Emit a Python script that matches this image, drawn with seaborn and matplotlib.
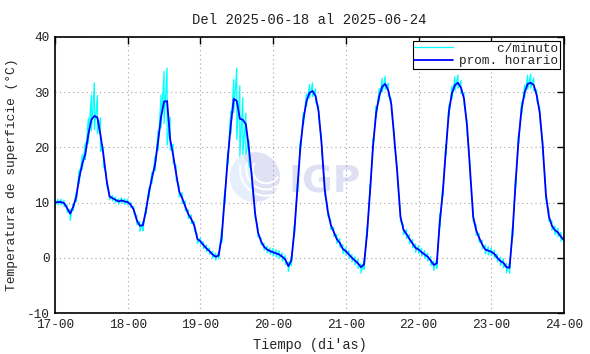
import numpy as np
import pandas as pd
import matplotlib
matplotlib.use("Agg")
import matplotlib.pyplot as plt
from matplotlib.patches import Circle, Wedge, Arc
import seaborn as sns

# promedio horario (C), una fila por dia, desde 17-jun 00h hasta 24-jun 00h
prom_horario = [
    10.0, 10.1, 10.1, 9.9, 9.0, 8.0, 9.2, 11.0, 14.5, 17.0, 18.8, 22.3, 25.0, 25.7, 25.4, 22.3, 18.6, 14.2, 11.1, 10.8, 10.5, 10.2, 10.4, 10.2,
    10.1, 9.6, 8.7, 6.8, 5.8, 5.9, 8.5, 11.8, 14.5, 16.8, 21.0, 25.5, 28.3, 28.4, 21.5, 18.6, 15.2, 12.0, 10.8, 9.3, 7.9, 7.0, 5.8, 3.4,
    3.0, 2.3, 1.7, 1.2, 0.6, 0.2, 0.4, 3.7, 10.8, 17.8, 24.0, 28.8, 28.4, 25.2, 25.0, 24.2, 19.8, 14.5, 8.2, 4.6, 3.0, 2.0, 1.5, 1.2,
    1.0, 0.8, 0.6, 0.2, -0.3, -1.5, -0.5, 4.8, 12.5, 20.2, 25.1, 28.4, 29.9, 30.2, 29.3, 26.5, 20.5, 12.5, 8.5, 6.0, 4.7, 3.4, 2.7, 1.6,
    1.2, 0.6, 0.0, -0.5, -1.0, -1.7, -1.2, 4.5, 12.2, 20.5, 26.3, 29.3, 31.0, 31.5, 30.3, 27.8, 21.5, 15.2, 7.5, 5.1, 4.3, 3.4, 2.6, 1.8,
    1.5, 1.0, 0.6, 0.2, -0.5, -1.3, -1.0, 6.5, 12.0, 19.5, 26.5, 29.8, 31.3, 31.7, 30.8, 28.8, 23.8, 15.8, 7.5, 5.0, 3.6, 2.4, 1.5, 1.3,
    1.1, 0.7, 0.0, -0.6, -0.9, -1.7, -1.8, 4.5, 13.5, 21.5, 27.0, 30.0, 31.5, 31.7, 31.3, 29.4, 26.2, 20.0, 11.5, 7.5, 5.8, 5.0, 4.6, 3.8,
    3.2,
]

# dispersion de los datos por minuto dentro de cada hora (sobre / bajo el promedio)
disp_sup = [
    0.5, 0.5, 0.5, 0.5, 0.6, 0.8, 0.6, 0.8, 1.5, 1.7, 2.0, 3.0, 4.5, 6.0, 4.0, 3.0, 1.5, 1.0, 0.5, 0.5, 0.5, 0.5, 0.5, 0.5,
    0.5, 0.5, 0.6, 0.8, 0.8, 0.6, 0.6, 0.8, 1.0, 1.5, 2.0, 4.0, 5.5, 6.0, 4.0, 2.0, 1.5, 1.0, 1.0, 1.0, 0.8, 0.8, 0.8, 0.8,
    0.6, 0.6, 0.6, 0.6, 0.6, 0.6, 0.6, 1.5, 1.5, 1.5, 2.5, 3.5, 6.0, 6.0, 4.0, 2.0, 1.5, 1.0, 0.8, 0.8, 0.6, 0.6, 0.6, 0.6,
    0.7, 0.7, 0.7, 0.7, 0.7, 0.7, 0.8, 1.0, 1.0, 1.0, 1.2, 1.3, 1.5, 1.5, 1.3, 1.0, 1.0, 1.0, 0.9, 0.9, 0.8, 0.8, 0.8, 0.8,
    0.7, 0.7, 0.6, 0.7, 0.7, 0.6, 0.8, 1.0, 1.0, 1.1, 1.2, 1.4, 1.5, 1.4, 1.3, 1.0, 1.0, 0.9, 0.9, 0.9, 0.8, 0.8, 0.7, 0.7,
    0.7, 0.7, 0.7, 0.6, 0.7, 0.7, 0.8, 1.5, 1.0, 1.0, 1.2, 1.3, 1.5, 1.4, 1.3, 1.0, 1.0, 1.0, 0.9, 0.9, 0.8, 0.8, 0.8, 0.7,
    0.7, 0.7, 0.7, 0.7, 0.7, 0.7, 0.8, 1.0, 1.0, 1.0, 1.2, 1.3, 1.6, 1.6, 1.3, 1.0, 1.0, 1.0, 1.2, 1.0, 0.9, 0.8, 0.8, 0.8,
    0.8,
]
disp_inf = [
    0.5, 0.5, 0.5, 0.6, 0.8, 1.2, 0.6, 0.8, 1.0, 1.0, 1.0, 1.5, 2.0, 2.5, 3.0, 3.0, 2.0, 1.0, 0.6, 0.5, 0.5, 0.5, 0.5, 0.5,
    0.5, 0.5, 0.6, 0.8, 1.0, 1.0, 0.6, 0.8, 1.0, 1.0, 1.5, 2.0, 4.0, 8.0, 2.0, 1.5, 1.2, 1.0, 1.0, 0.8, 0.8, 0.8, 0.8, 0.8,
    0.6, 0.6, 0.6, 0.6, 0.6, 0.6, 0.6, 1.0, 1.0, 1.0, 1.5, 2.5, 7.0, 6.8, 6.3, 5.5, 3.0, 1.5, 0.8, 0.8, 0.6, 0.6, 0.6, 0.6,
    0.7, 0.7, 0.7, 0.8, 0.9, 1.0, 0.9, 0.8, 0.8, 0.8, 0.9, 1.0, 1.0, 1.0, 1.0, 1.0, 1.0, 1.0, 0.9, 0.9, 0.8, 0.8, 0.8, 0.8,
    0.7, 0.7, 0.7, 0.8, 0.9, 1.1, 0.9, 0.8, 0.8, 0.8, 0.9, 1.0, 1.0, 1.0, 1.0, 1.0, 1.0, 1.0, 0.9, 0.9, 0.8, 0.8, 0.8, 0.8,
    0.7, 0.7, 0.7, 0.8, 0.9, 1.0, 0.9, 0.8, 0.8, 0.8, 0.9, 1.0, 1.0, 1.0, 1.0, 1.0, 1.0, 1.0, 0.9, 0.9, 0.8, 0.8, 0.8, 0.8,
    0.7, 0.7, 0.7, 0.8, 0.9, 1.0, 1.0, 0.8, 0.8, 0.8, 0.9, 1.0, 1.0, 1.0, 1.0, 1.0, 1.0, 1.0, 0.9, 0.9, 0.8, 0.8, 0.8, 0.8,
    0.8,
]

inicio = '2025-06-17 00:00'
dias_ticks = ['17-00', '18-00', '19-00', '20-00', '21-00', '22-00', '23-00', '24-00']
y_ticks = [-10, 0, 10, 20, 30, 40]
titulo = 'Del 2025-06-18 al 2025-06-24'
etiquetas = ['     c/minuto', 'prom. horario']

# tablas
tiempo = pd.date_range(inicio, periods=len(prom_horario), freq='h')
df_hora = pd.DataFrame({'tiempo': tiempo, 'temp': prom_horario})

prom = np.array(prom_horario)
alto = prom + np.array(disp_sup)
bajo = prom - np.array(disp_inf)
# trazo de los datos por minuto: sube y baja dentro de cada hora
df_min = pd.DataFrame({
    'tiempo': np.repeat(tiempo.values, 2),
    'temp': np.column_stack([alto, bajo]).ravel(),
})

sns.set_theme(style='white')
plt.rcParams['font.family'] = ['Liberation Mono', 'DejaVu Sans']
plt.rcParams['axes.unicode_minus'] = False
plt.rcParams['text.color'] = '#222222'

fig, ax = plt.subplots(figsize=(5.9, 3.54), dpi=100)
fig.subplots_adjust(left=0.0932, right=0.956, bottom=0.1158, top=0.8955)

# marca de agua IGP
logo = ax.inset_axes([0.344, 0.402, 0.098, 0.181], zorder=0.3)
logo.set_xlim(-1, 1)
logo.set_ylim(-1, 1)
logo.set_aspect('equal')
logo.axis('off')
logo.add_patch(Circle((0, 0), 1, color='#e1e1f5', lw=0))
logo.add_patch(Wedge((0, 0), 1, 120, 260, color='#e6f0fc', lw=0))
for r, (a1, a2) in zip([0.55, 0.8, 1.05], [(150, 330), (160, 320), (170, 300)]):
    logo.add_patch(Arc((0.45, 0.3), 2 * r, 2 * r, theta1=a1, theta2=a2, color='white', lw=1.5))
ax.text(0.458, 0.435, 'IGP', transform=ax.transAxes, fontsize=27, fontweight='bold',
        family='DejaVu Sans', color='#e0e0f4', ha='left', va='baseline', zorder=0.4)

sns.lineplot(data=df_min, x='tiempo', y='temp', ax=ax, color='#00ffff', lw=0.9,
             estimator=None, sort=False, label=etiquetas[0])
sns.lineplot(data=df_hora, x='tiempo', y='temp', ax=ax, color='#0000ff', lw=1.3,
             estimator=None, label=etiquetas[1])

ticks_x = pd.date_range(inicio, periods=len(dias_ticks), freq='D')
ax.set_xticks(ticks_x, dias_ticks)
ax.set_xlim(ticks_x[0], ticks_x[-1])
ax.set_yticks(y_ticks)
ax.set_ylim(y_ticks[0], y_ticks[-1])

ax.grid(True, linestyle=(0, (1, 3)), color='#a0a0a0', lw=0.8)
ax.tick_params(direction='in', top=True, right=True, length=5, width=1, colors='black',
               labelcolor='#222222', labelsize=9.2, pad=4)
for s in ax.spines.values():
    s.set_color('black')
    s.set_linewidth(1.2)

ax.set_title(titulo, fontsize=10, pad=9)
ax.set_xlabel("Tiempo (di'as)", fontsize=9.8, labelpad=5)
ax.set_ylabel('Temperatura de superficie (°C)', fontsize=9.4, labelpad=6)

leg = ax.legend(loc='upper right', fontsize=9.2, frameon=True, fancybox=False,
                edgecolor='black', framealpha=1, borderpad=0.15, labelspacing=0.05,
                handlelength=3.0, handletextpad=0.5, borderaxespad=0.3)
leg.get_frame().set_linewidth(0.8)

fig.savefig('out.png', dpi=100)
